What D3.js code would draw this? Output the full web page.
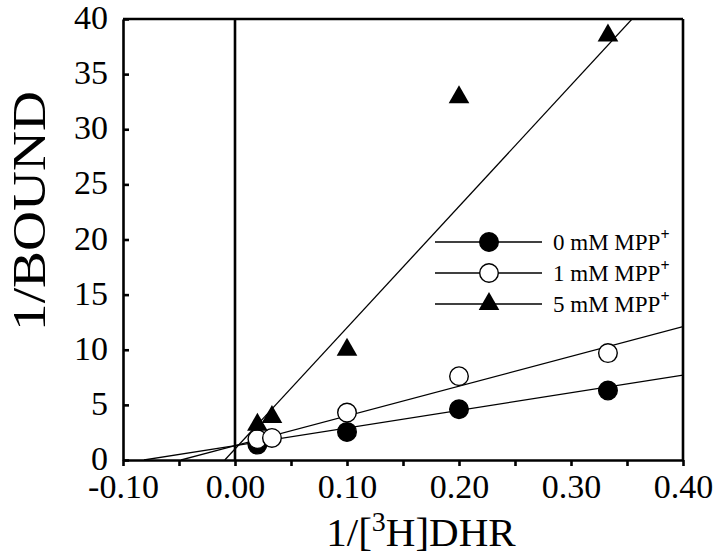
<!DOCTYPE html>
<html>
<head>
<meta charset="utf-8">
<script src="https://cdn.jsdelivr.net/npm/d3@7"></script>
<style>
  body { margin: 0; background: #fff; }
  svg { display: block; }
  text { font-family: "Liberation Serif", "Times New Roman", serif; fill: #000; }
</style>
</head>
<body>
<div id="chart"></div>
<script>
'use strict';

// Data (Lineweaver-Burk plot)
const series = ['0 mM', '1 mM', '5 mM'];
const xs0 = [0.02, 0.10, 0.20, 0.333];
const ys0 = [1.4, 2.55, 4.6, 6.3];
const xs1 = [0.02, 0.033, 0.10, 0.20, 0.333];
const ys1 = [1.9, 2.0, 4.3, 7.6, 9.7];
const xs5 = [0.02, 0.033, 0.10, 0.20, 0.333];
const ys5 = [3.2, 3.9, 10.0, 32.9, 38.5];
// fitted lines: intercept, slope
const fitIntercepts = [1.3, 1.3, 1.0];
const fitSlopes = [16, 27, 110];
const xTicks = [-0.10, -0.05, 0.00, 0.05, 0.10, 0.15, 0.20, 0.25, 0.30, 0.35, 0.40];
const yTicks = [0, 5, 10, 15, 20, 25, 30, 35, 40];

const W = 720, H = 557;
const margin = {top: 19, right: 37, bottom: 97, left: 123};
const width = W - margin.left - margin.right,
      height = H - margin.top - margin.bottom;

const svg = d3.select("#chart").append("svg")
  .attr("width", W)
  .attr("height", H);

const g = svg.append("g")
  .attr("transform", "translate(" + margin.left + "," + margin.top + ")");

const x = d3.scaleLinear().domain([-0.10, 0.40]).range([0, width]);
const y = d3.scaleLinear().domain([0, 40]).range([height, 0]);

g.append("clipPath").attr("id", "plotclip")
  .append("rect").attr("width", width).attr("height", height);

// Zero line
g.append("line")
  .attr("x1", x(0)).attr("x2", x(0))
  .attr("y1", 0).attr("y2", height)
  .style("stroke", "#000").style("stroke-width", 2.6);

// Regression lines, from the x-intercept to the right edge
const lines = g.append("g").attr("clip-path", "url(#plotclip)");
fitIntercepts.forEach(function(a, i) {
  const b = fitSlopes[i];
  const x0 = -a / b;
  lines.append("line")
    .attr("x1", x(x0)).attr("y1", y(0))
    .attr("x2", x(0.40)).attr("y2", y(a + b * 0.40))
    .style("stroke", "#000").style("stroke-width", 1.3);
});

// Axes
const fmt = function(d) {
  if (Math.round(d * 100) % 10 !== 0) return "";
  return d3.format(".2f")(d).replace("\u2212", "-");
};

const xAxis = g.append("g")
  .attr("transform", "translate(0," + height + ")")
  .call(d3.axisBottom(x).tickValues(xTicks).tickFormat(fmt).tickSizeInner(6).tickSizeOuter(0).tickPadding(8));

const yAxis = g.append("g")
  .call(d3.axisLeft(y).tickValues(yTicks).tickSizeInner(-6).tickSizeOuter(0).tickPadding(15));

[xAxis, yAxis].forEach(function(ax) {
  ax.select(".domain").style("stroke-width", 2.6);
  ax.selectAll(".tick line").style("stroke-width", 2.6);
  ax.selectAll(".tick text")
    .style("font-family", "'Liberation Serif', serif")
    .style("font-size", "34px")
    .style("fill", "#000");
});
xAxis.selectAll(".tick text").attr("dy", "0.72em");
yAxis.selectAll(".tick text").attr("dy", "0.28em");

// Frame top and right
g.append("line").attr("x1", 0).attr("x2", width).attr("y1", 0).attr("y2", 0)
  .style("stroke", "#000").style("stroke-width", 2.6);
g.append("line").attr("x1", width).attr("x2", width).attr("y1", 0).attr("y2", height)
  .style("stroke", "#000").style("stroke-width", 2.6);

// Markers
const tri = d3.symbol().type(d3.symbolTriangle).size(185);

function drawPoints(xs, ys, kind) {
  const pts = xs.map(function(v, i) { return {x: v, y: ys[i]}; });
  if (kind === "tri") {
    g.selectAll(null).data(pts).enter().append("path")
      .attr("d", tri)
      .attr("transform", function(d) { return "translate(" + x(d.x) + "," + y(d.y) + ")"; })
      .style("fill", "#000");
  } else {
    g.selectAll(null).data(pts).enter().append("circle")
      .attr("cx", function(d) { return x(d.x); })
      .attr("cy", function(d) { return y(d.y); })
      .attr("r", 9.3)
      .style("fill", kind === "filled" ? "#000" : "#fff")
      .style("stroke", "#000").style("stroke-width", 1.4);
  }
}
drawPoints(xs0, ys0, "filled");
drawPoints(xs1, ys1, "open");
drawPoints(xs5, ys5, "tri");

// Legend
const kinds = ["filled", "open", "tri"];
const legend = g.append("g").attr("transform", "translate(312,223)");
series.forEach(function(s, i) {
  const row = legend.append("g").attr("transform", "translate(0," + (i * 31) + ")");
  row.append("line").attr("x1", 0).attr("x2", 107).attr("y1", 0).attr("y2", 0)
    .style("stroke", "#000").style("stroke-width", 1.3);
  if (kinds[i] === "tri") {
    row.append("path").attr("d", tri).attr("transform", "translate(54,0)").style("fill", "#000");
  } else {
    row.append("circle").attr("cx", 54).attr("cy", 0).attr("r", 9.3)
      .style("fill", kinds[i] === "filled" ? "#000" : "#fff")
      .style("stroke", "#000").style("stroke-width", 1.4);
  }
  const t = row.append("text").attr("x", 118).attr("y", 8).style("font-size", "23px");
  t.append("tspan").text(s + " MPP");
  t.append("tspan").attr("dy", -10).style("font-size", "16px").style("font-weight", "bold").text("+");
});

// Axis titles
const xt = svg.append("text")
  .attr("x", 421).attr("y", 546)
  .attr("text-anchor", "middle")
  .style("font-size", "41px");
xt.append("tspan").text("1/[");
xt.append("tspan").attr("dy", -15).style("font-size", "28px").text("3");
xt.append("tspan").attr("dy", 15).text("H]DHR");

svg.append("text")
  .attr("transform", "translate(45,211) rotate(-90)")
  .attr("text-anchor", "middle")
  .attr("textLength", 240)
  .attr("lengthAdjust", "spacingAndGlyphs")
  .style("font-size", "46px")
  .text("1/BOUND");
</script>
</body>
</html>
